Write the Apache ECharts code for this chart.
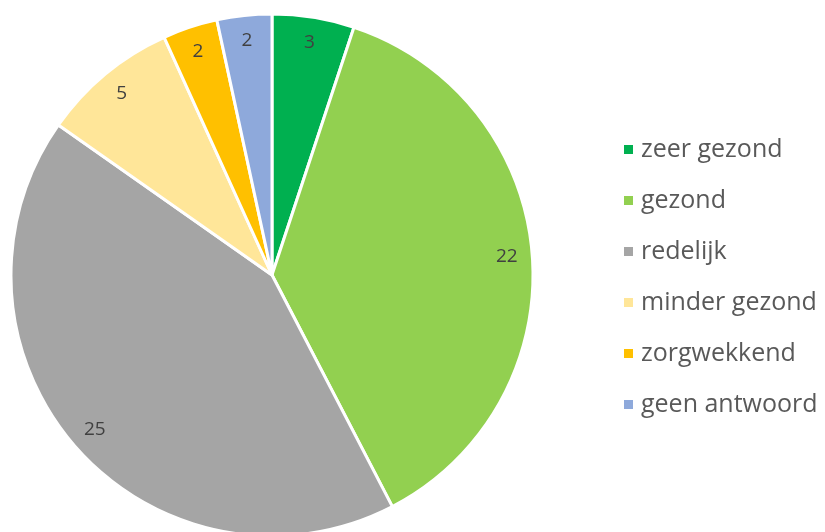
<!DOCTYPE html>
<html>
<head>
<meta charset="utf-8">
<script src="https://cdn.jsdelivr.net/npm/echarts@6/dist/echarts.min.js"></script>
<style>
html, body { margin: 0; padding: 0; background: #fff; }
#chart { width: 825px; height: 532px; }
</style>
</head>
<body>
<div id="chart"></div>
<script>
// categorieën en aantallen
var categories = ['zeer gezond', 'gezond', 'redelijk', 'minder gezond', 'zorgwekkend', 'geen antwoord'];
var values = [3, 22, 25, 5, 2, 2];
var colors = ['#00B050', '#92D050', '#A5A5A5', '#FFE699', '#FFC000', '#8EA9DB'];

var pieData = [];
var labelData = [];
for (var i = 0; i < categories.length; i++) {
    pieData.push({ name: categories[i], value: values[i], itemStyle: { color: colors[i] } });
    labelData.push({ name: categories[i], value: values[i] });
}

var myChart = echarts.init(document.getElementById('chart'), null, { renderer: 'canvas' });
var option = {
    animation: false,
    legend: {
        orient: 'vertical',
        left: 617,
        top: 132,
        icon: 'rect',
        itemWidth: 11,
        itemHeight: 11,
        itemGap: 26,
        textStyle: { color: '#595959', fontSize: 25, lineHeight: 25, fontFamily: 'Open Sans', padding: [0, 0, 0, 2] },
        data: categories
    },
    series: [{
        type: 'pie',
        center: [272, 275],
        radius: [0, 261],
        startAngle: 90,
        clockwise: true,
        data: pieData,
        itemStyle: { borderColor: '#fff', borderWidth: 3 },
        label: { show: false },
        labelLine: { show: false },
        emphasis: { disabled: true }
    }, {
        // alleen voor de labels bij de buitenrand
        type: 'pie',
        center: [272, 275],
        radius: [204, 261],
        startAngle: 90,
        clockwise: true,
        silent: true,
        legendHoverLink: false,
        data: labelData,
        itemStyle: { color: 'rgba(0,0,0,0)', borderWidth: 0 },
        label: {
            show: true,
            position: 'inside',
            formatter: '{c}',
            color: '#404040',
            fontSize: 19,
            fontFamily: 'Open Sans'
        },
        labelLine: { show: false },
        emphasis: { disabled: true }
    }]
};
myChart.setOption(option);
</script>
</body>
</html>
